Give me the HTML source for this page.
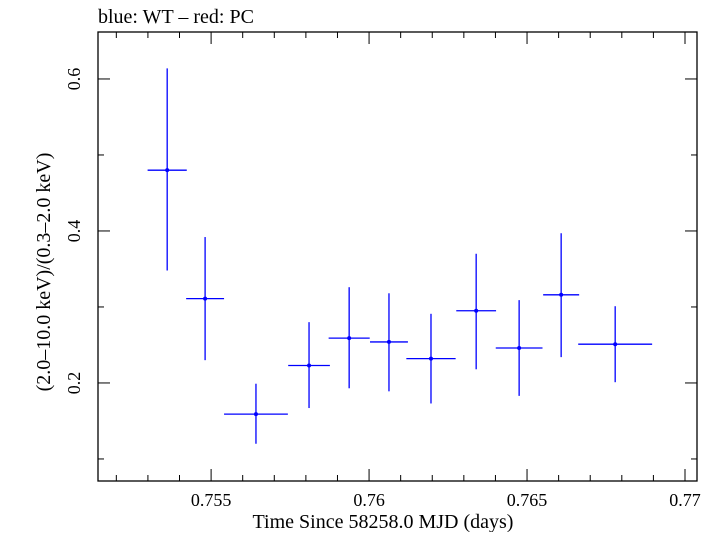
<!DOCTYPE html>
<html><head><meta charset="utf-8"><style>
body{margin:0;background:#fff;}
svg text{font-family:"Liberation Serif",serif;fill:#000;}
</style></head><body>
<svg id="chart" width="726" height="532" xmlns="http://www.w3.org/2000/svg">
<text x="98" y="23" font-size="20">blue: WT – red: PC</text>
<rect x="98" y="32" width="599" height="449" fill="none" stroke="#000" stroke-width="1.3"/>
<g id="axes"></g>
<g id="series"></g>
<text x="383" y="528" font-size="20" text-anchor="middle">Time Since 58258.0 MJD (days)</text>
<text transform="translate(50,272) rotate(-90)" font-size="20" text-anchor="middle">(2.0–10.0 keV)/(0.3–2.0 keV)</text>
</svg>
<script>
const timeValues=[0.75361,0.75481,0.75642,0.75810,0.75937,0.76063,0.76196,0.76339,0.76475,0.76608,0.76779];
const timeErr=[0.00062,0.0006,0.00101,0.00066,0.00065,0.0006,0.00078,0.00063,0.00074,0.00057,0.00117];
const ratioValues=[0.480,0.311,0.159,0.223,0.259,0.254,0.232,0.295,0.246,0.316,0.251];
const ratioLow=[0.348,0.230,0.120,0.167,0.193,0.189,0.173,0.218,0.183,0.234,0.201];
const ratioHigh=[0.614,0.392,0.199,0.280,0.326,0.318,0.291,0.370,0.309,0.397,0.301];
const xTickLabels=["0.755","0.76","0.765","0.77"];
const yTickLabels=["0.2","0.4","0.6"];
const X0=98,X1=697,Y0=32,Y1=481;
const xMin=0.75142,xMax=0.77038,yMin=0.071,yMax=0.6618;
const sx=v=>X0+(v-xMin)/(xMax-xMin)*(X1-X0);
const sy=v=>Y1-(v-yMin)/(yMax-yMin)*(Y1-Y0);
const NS="http://www.w3.org/2000/svg";
const axes=document.getElementById('axes'),series=document.getElementById('series');
function ln(p,x1,y1,x2,y2,c,w){const l=document.createElementNS(NS,'line');l.setAttribute('x1',x1);l.setAttribute('y1',y1);l.setAttribute('x2',x2);l.setAttribute('y2',y2);l.setAttribute('stroke',c);l.setAttribute('stroke-width',w);p.appendChild(l);return l;}
for(let i=752;i<=770;i++){const v=i/1000,x=sx(v),maj=i%5===0,len=maj?12:6;
 let t=ln(axes,x,Y1,x,Y1-len,'#000',1);
 
 
 t=ln(axes,x,Y0,x,Y0+len,'#000',1);
 
 }
xTickLabels.forEach(s=>{const tx=document.createElementNS(NS,'text');tx.setAttribute('x',sx(parseFloat(s)));tx.setAttribute('y',Y1+25);tx.setAttribute('font-size','18');tx.setAttribute('text-anchor','middle');tx.textContent=s;
 
 
 axes.appendChild(tx);});
for(let i=1;i<=6;i++){const v=i/10,y=sy(v),maj=i%2===0,len=maj?12:6;
 let t=ln(axes,X0,y,X0+len,y,'#000',1);
 
 
 t=ln(axes,X1,y,X1-len,y,'#000',1);
 
 }
yTickLabels.forEach(s=>{const y=sy(parseFloat(s));const tx=document.createElementNS(NS,'text');tx.setAttribute('transform','translate('+(X0-18)+','+y+') rotate(-90)');tx.setAttribute('font-size','18');tx.setAttribute('text-anchor','middle');tx.textContent=s;
 
 
 axes.appendChild(tx);});
timeValues.forEach((t,i)=>{const g=document.createElementNS(NS,'g');
 
 
 const x=sx(t),y=sy(ratioValues[i]);
 ln(g,sx(t-timeErr[i]),y,sx(t+timeErr[i]),y,'#0000ff',1.3);
 ln(g,x,sy(ratioLow[i]),x,sy(ratioHigh[i]),'#0000ff',1.3);
 const c=document.createElementNS(NS,'circle');c.setAttribute('cx',x);c.setAttribute('cy',y);c.setAttribute('r',2);c.setAttribute('fill','#0000ff');g.appendChild(c);
 series.appendChild(g);});
</script>
</body></html>
